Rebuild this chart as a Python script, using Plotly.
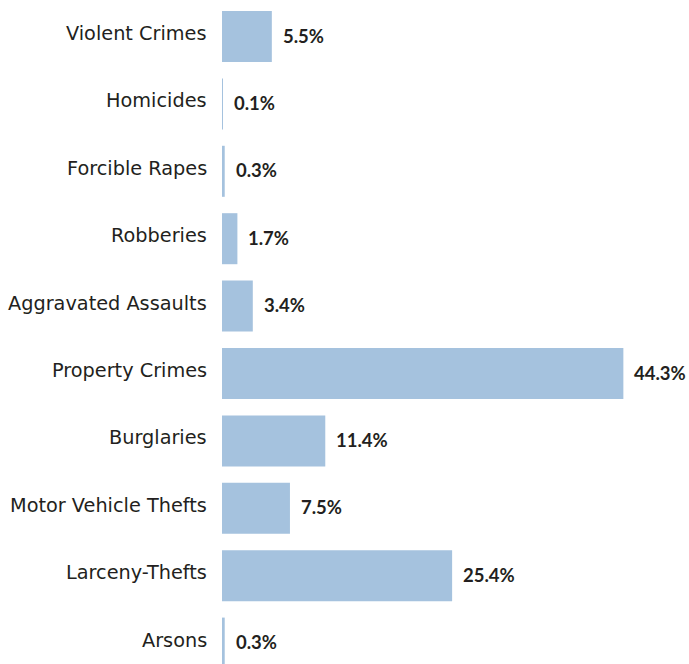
import plotly.graph_objects as go

categories = ["Violent Crimes", "Homicides", "Forcible Rapes", "Robberies",
              "Aggravated Assaults", "Property Crimes", "Burglaries",
              "Motor Vehicle Thefts", "Larceny-Thefts", "Arsons"]
values = [5.5, 0.1, 0.3, 1.7, 3.4, 44.3, 11.4, 7.5, 25.4, 0.3]
labels = ["5.5%", "0.1%", "0.3%", "1.7%", "3.4%", "44.3%", "11.4%", "7.5%", "25.4%", "0.3%"]

fig = go.Figure()
fig.add_trace(go.Bar(
    x=values, y=categories, orientation="h",
    marker=dict(color="#a5c2de", line=dict(width=0)),
    hoverinfo="skip",
))

for c, v, t in zip(categories, values, labels):
    fig.add_annotation(x=v, y=c, text="<b>" + t + "</b>", showarrow=False,
                       xanchor="left", yanchor="middle", xshift=9, yshift=1,
                       font=dict(family="Lato, Open Sans, sans-serif", size=18.5, color="#231f20"))
    fig.add_annotation(x=0, xref="paper", y=c, text=c, showarrow=False,
                       xanchor="right", yanchor="middle", xshift=-13, yshift=3,
                       font=dict(family="DejaVu Sans, sans-serif", size=19.3, color="#231f20"))

fig.update_layout(
    width=689, height=664,
    margin=dict(l=222, r=14, t=0, b=0),
    paper_bgcolor="white", plot_bgcolor="white",
    bargap=0.243,
    showlegend=False,
    xaxis=dict(range=[0, 50], visible=False, showgrid=False, zeroline=False),
    yaxis=dict(categoryorder="array", categoryarray=categories,
               range=[9.31, -0.5415], showgrid=False, zeroline=False,
               ticks="", showticklabels=False),
)

fig.write_html("out.html")
